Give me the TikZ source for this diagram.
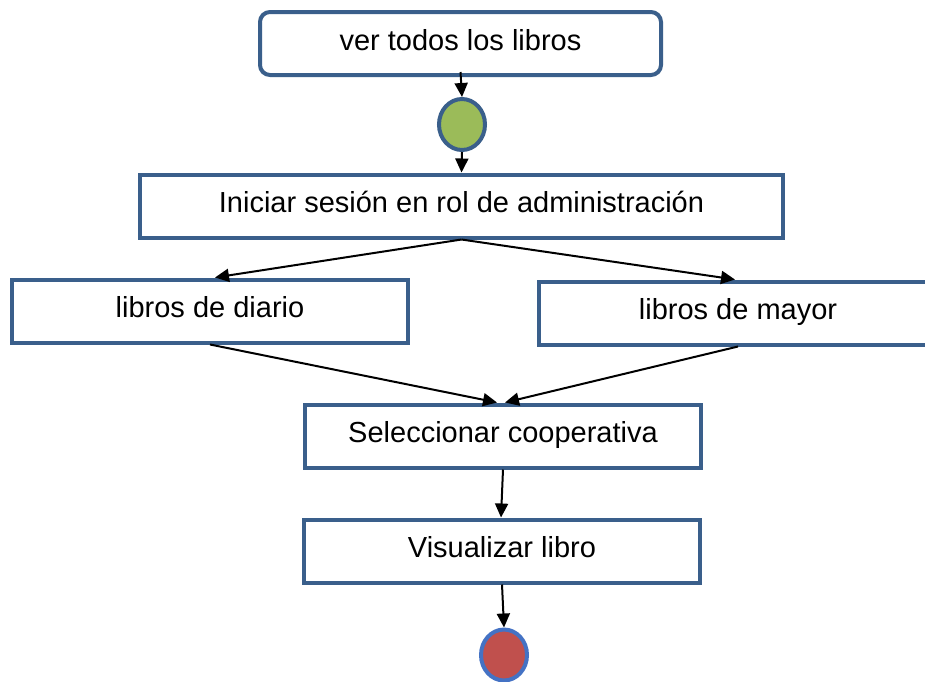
\documentclass[tikz,border=0pt]{standalone}
\usepackage{fontspec}
\setmainfont{Liberation Sans}
\usetikzlibrary{arrows.meta,shapes.geometric}
\definecolor{boxblue}{RGB}{58,95,139}
\definecolor{endblue}{RGB}{68,114,196}
\definecolor{startgreen}{RGB}{155,187,89}
\definecolor{endred}{RGB}{192,80,77}
\tikzset{
  stepbox/.style={draw=boxblue, line width=4pt, fill=white, inner sep=0pt,
    text height=21pt, text depth=8pt,
    minimum width=396pt, minimum height=63pt, font=\fontsize{29}{34}\selectfont},
  roundbox/.style={stepbox, rounded corners=10pt, minimum width=401pt},
  dot/.style={ellipse, draw=boxblue, line width=4pt, inner sep=0pt,
    minimum width=46pt, minimum height=51pt},
  flow/.style={draw=black, line width=2pt, -{Triangle[length=14pt,width=13pt]}}
}
\begin{document}
\begin{tikzpicture}[x=1pt,y=-1pt]
\useasboundingbox (0,0) rectangle (925,681);
\clip (0,0) rectangle (925,681);
\node[roundbox] (top) at (460.5,43.5) {ver todos los libros};
\node[dot, fill=startgreen] (start) at (462,124.5) {};
\node[stepbox, minimum width=643pt] (login) at (461.5,206) {Iniciar sesión en rol de administración};
\node[stepbox] (diario) at (210,311) {libros de diario};
\node[stepbox, minimum width=398pt] (mayor) at (738,313) {libros de mayor};
\node[stepbox] (coop) at (503,436) {Seleccionar cooperativa};
\node[stepbox] (vis) at (502,551) {Visualizar libro};
\node[dot, fill=endred, draw=endblue] (fin) at (504,655) {};
\draw[flow] ([yshift=5pt]top.south) -- (start.north);
\draw[flow] (start.south) -- (login.north);
\draw[flow] (login.south) -- ([xshift=5pt]diario.north);
\draw[flow] (login.south) -- ([xshift=-3pt]mayor.north);
\draw[flow] (diario.south) -- ([xshift=-6pt]coop.north);
\draw[flow] (mayor.south) -- ([xshift=2pt]coop.north);
\draw[flow] (coop.south) -- ([xshift=-1pt]vis.north);
\draw[flow] (vis.south) -- (fin.north);
\end{tikzpicture}
\end{document}
